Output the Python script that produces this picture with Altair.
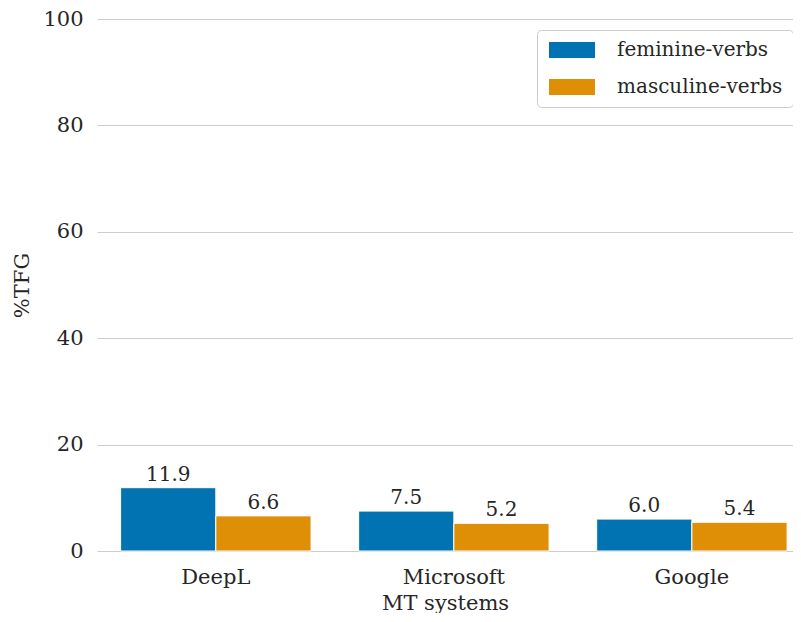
import altair as alt
import pandas as pd

systems = ["DeepL", "Microsoft", "Google"]
groups = ["feminine-verbs", "masculine-verbs"]
feminine = [11.9, 7.5, 6.0]
masculine = [6.6, 5.2, 5.4]
colors = ["#0173b2", "#de8f05"]

rows = []
for i, s in enumerate(systems):
    rows.append({"system": s, "group": groups[0], "value": feminine[i]})
    rows.append({"system": s, "group": groups[1], "value": masculine[i]})
df = pd.DataFrame(rows)

FONT = "DejaVu Serif"
TXT = "#262626"

xenc = alt.X("system:N", sort=systems, title="MT systems",
             scale=alt.Scale(paddingInner=0.2, paddingOuter=0.062, align=0.8),
             axis=alt.Axis(labelAngle=0, domain=False, ticks=False, labelPadding=15,
                           titlePadding=5))
xoff = alt.XOffset("group:N", sort=groups)

bars = alt.Chart(df).mark_bar(stroke="white", strokeWidth=1).encode(
    x=xenc,
    xOffset=xoff,
    y=alt.Y("value:Q", title="%TFG",
            scale=alt.Scale(domain=[0, 100]),
            axis=alt.Axis(values=[0, 20, 40, 60, 80, 100], domain=False, ticks=False,
                          grid=True, labelPadding=14, titlePadding=10)),
    color=alt.Color("group:N", sort=groups,
                    scale=alt.Scale(domain=groups, range=colors),
                    legend=alt.Legend(title=None, orient="none", legendX=440, legendY=11,
                                      symbolType="M-1,-1H4.75V1H-1Z", symbolSize=256,
                                      symbolStrokeWidth=0, labelOffset=50, rowPadding=17,
                                      padding=10, strokeColor="#cccccc", cornerRadius=4,
                                      fillColor="white", labelFontSize=20, labelFont=FONT,
                                      labelColor=TXT, labelLimit=400)),
)

labels = alt.Chart(df).mark_text(baseline="bottom", dy=-3, fontSize=20, font=FONT,
                                 color=TXT).encode(
    x=alt.X("system:N", sort=systems),
    xOffset=xoff,
    y="value:Q",
    text=alt.Text("value:Q", format=".1f"),
)

chart = (bars + labels).properties(
    width=696, height=532,
    autosize=alt.AutoSizeParams(type="none"),
    padding={"left": 89, "top": 11, "right": 0, "bottom": 62},
).configure_view(stroke=None).configure_axis(
    labelFont=FONT, titleFont=FONT, labelFontSize=21, titleFontSize=21,
    labelColor=TXT, titleColor=TXT, titleFontWeight="normal",
    gridColor="#cccccc", gridWidth=1,
)

chart.save("out.html", embed_options={"renderer": "svg", "actions": False})
